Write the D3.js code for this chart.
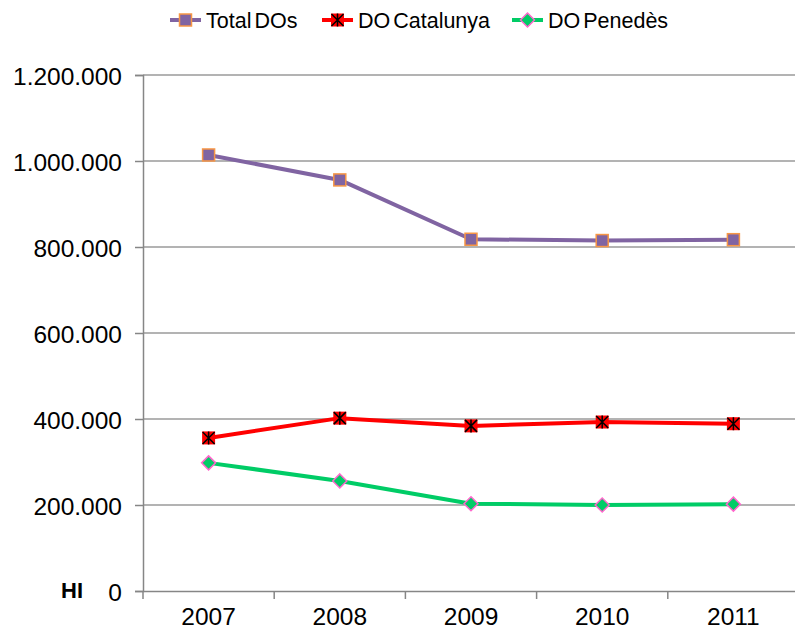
<!DOCTYPE html>
<html><head><meta charset="utf-8">
<script src="https://cdn.jsdelivr.net/npm/d3@7/dist/d3.min.js"></script>
<style>body{margin:0;background:#fff}svg{display:block;font-family:"Liberation Sans",Arial,sans-serif}</style>
</head><body><svg id="c" width="795" height="632"></svg>
<script>
const years = ["2007","2008","2009","2010","2011"];
const totalDOs = [1014000, 956000, 818000, 815000, 817000];
const doCatalunya = [356000, 402000, 384000, 393000, 389000];
const doPenedes = [298000, 256000, 203000, 200000, 202000];
const yTicks = [0, 200000, 400000, 600000, 800000, 1000000, 1200000];
const seriesNames = ["Total DOs", "DO Catalunya", "DO Penedès"];

const series = [
  {name: seriesNames[0], values: totalDOs, color: "#8064A2", marker: "square", fill: "#8064A2", stroke: "#F79646"},
  {name: seriesNames[1], values: doCatalunya, color: "#FF0000", marker: "star", fill: "#FF0000", stroke: "#000"},
  {name: seriesNames[2], values: doPenedes, color: "#00CC66", marker: "diamond", fill: "#00CC66", stroke: "#FF66CC"}
];

const svg = d3.select("#c");
const pL = 143, pR = 799, pT = 75, pB = 591;
const x = d3.scaleBand().domain(years).range([pL, pR]);
const y = d3.scaleLinear().domain([0, 1200000]).range([pB, pT]);
const fmt = v => d3.format(",")(v).replace(/,/g, ".");

// gridlines
svg.append("g").selectAll("line").data(yTicks.filter(d => d > 0)).join("line")
  .attr("x1", pL).attr("x2", pR).attr("y1", d => y(d)).attr("y2", d => y(d))
  .attr("stroke", "#9a9a9a").attr("stroke-width", 1.5);

// y axis
const ya = svg.append("g").attr("transform", `translate(${pL},0)`)
  .call(d3.axisLeft(y).tickValues(yTicks).tickFormat(fmt).tickSize(8).tickPadding(13));
ya.select(".domain").attr("stroke", "#868686").attr("stroke-width", 1.5);
ya.selectAll(".tick line").attr("stroke", "#868686").attr("stroke-width", 1.5);
ya.selectAll(".tick text").attr("font-size", 24.5).attr("fill", "#000")
  .attr("font-family", "Liberation Sans, Arial, sans-serif").attr("dy", "0.4em");

// x axis
const xa = svg.append("g").attr("transform", `translate(0,${pB})`)
  .call(d3.axisBottom(x).tickSize(0).tickPadding(17));
xa.select(".domain").attr("stroke", "#868686").attr("stroke-width", 1.5);
xa.selectAll(".tick text").attr("font-size", 24.5).attr("fill", "#000")
  .attr("font-family", "Liberation Sans, Arial, sans-serif");
// category boundary ticks
const bounds = years.map(d => x(d)).concat([x(years[years.length-1]) + x.bandwidth()]);
svg.append("g").selectAll("line").data(bounds).join("line")
  .attr("x1", d => d).attr("x2", d => d).attr("y1", pB).attr("y2", pB + 8)
  .attr("stroke", "#868686").attr("stroke-width", 1.5);

// HI label
svg.append("text").attr("x", 61).attr("y", 598).attr("font-size", 22).attr("font-weight", "bold").text("HI");

const cx = d => x(d) + x.bandwidth() / 2;

function drawMarker(g, type, fill, stroke, px, py) {
  if (type === "square") {
    g.append("rect").attr("x", px - 6).attr("y", py - 6).attr("width", 12).attr("height", 12)
      .attr("fill", fill).attr("stroke", stroke).attr("stroke-width", 1.5);
  } else if (type === "star") {
    g.append("rect").attr("x", px - 6.5).attr("y", py - 6.5).attr("width", 13).attr("height", 13).attr("fill", fill);
    g.append("path").attr("d", `M${px-6},${py-6}L${px+6},${py+6}M${px+6},${py-6}L${px-6},${py+6}M${px},${py-6.5}L${px},${py+6.5}`)
      .attr("stroke", stroke).attr("stroke-width", 1.5);
  } else {
    g.append("path").attr("d", `M${px},${py-7}L${px+7},${py}L${px},${py+7}L${px-7},${py}Z`)
      .attr("fill", fill).attr("stroke", stroke).attr("stroke-width", 1.5);
  }
}

const line = d3.line().x((d, i) => cx(years[i])).y(d => y(d));
series.forEach(s => {
  const g = svg.append("g");
  g.append("path").datum(s.values).attr("d", line).attr("fill", "none")
    .attr("stroke", s.color).attr("stroke-width", 4).attr("stroke-linejoin", "round");
  s.values.forEach((v, i) => drawMarker(g, s.marker, s.fill, s.stroke, cx(years[i]), y(v)));
});

// legend
const legendX = [170, 322, 512];
series.forEach((s, i) => {
  const g = svg.append("g");
  const lx = legendX[i];
  g.append("line").attr("x1", lx).attr("x2", lx + 31).attr("y1", 20).attr("y2", 20)
    .attr("stroke", s.color).attr("stroke-width", 4);
  drawMarker(g, s.marker, s.fill, s.stroke, lx + 15.5, 20);
  g.append("text").attr("x", lx + 36).attr("y", 28).attr("font-size", 21.5)
    .attr("word-spacing", -3).text(s.name);
});
</script></body></html>
